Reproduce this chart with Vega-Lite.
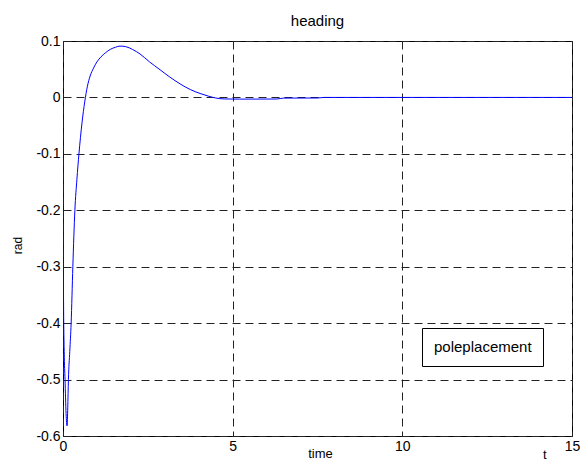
{
  "$schema": "https://vega.github.io/schema/vega-lite/v6.json",
  "width": 509,
  "height": 395,
  "autosize": "none",
  "padding": {"left": 63, "top": 41, "right": 8, "bottom": 26},
  "background": "white",
  "config": {
    "font": "Liberation Sans",
    "view": {"stroke": "black", "strokeWidth": 1},
    "axis": {
      "grid": true,
      "gridColor": "#222",
      "gridDash": [8, 5],
      "gridOpacity": 1,
      "domain": false,
      "ticks": false,
      "labelFontSize": 14,
      "labelColor": "black",
      "titleColor": "black",
      "titleFontWeight": "normal",
      "titleFontSize": 13
    }
  },
  "title": {"text": "heading", "fontSize": 15, "fontWeight": "normal", "baseline": "alphabetic", "offset": 16, "frame": "group", "dy": 23, "color": "black"},
  "layer": [
    {
      "data": {"values": [
        {"t": 0, "v": 0, "series": "poleplacement"},
        {"t": 0.005, "v": -0.2, "series": "poleplacement"},
        {"t": 0.015, "v": -0.35, "series": "poleplacement"},
        {"t": 0.035, "v": -0.45, "series": "poleplacement"},
        {"t": 0.06, "v": -0.5, "series": "poleplacement"},
        {"t": 0.09, "v": -0.56, "series": "poleplacement"},
        {"t": 0.12, "v": -0.582, "series": "poleplacement"},
        {"t": 0.14, "v": -0.55, "series": "poleplacement"},
        {"t": 0.16, "v": -0.5, "series": "poleplacement"},
        {"t": 0.2, "v": -0.45, "series": "poleplacement"},
        {"t": 0.24, "v": -0.4, "series": "poleplacement"},
        {"t": 0.29, "v": -0.3, "series": "poleplacement"},
        {"t": 0.35, "v": -0.2, "series": "poleplacement"},
        {"t": 0.41, "v": -0.145, "series": "poleplacement"},
        {"t": 0.47, "v": -0.1, "series": "poleplacement"},
        {"t": 0.56, "v": -0.045, "series": "poleplacement"},
        {"t": 0.64, "v": -0.008, "series": "poleplacement"},
        {"t": 0.72, "v": 0.02, "series": "poleplacement"},
        {"t": 0.8, "v": 0.038, "series": "poleplacement"},
        {"t": 0.9, "v": 0.052, "series": "poleplacement"},
        {"t": 1.0, "v": 0.063, "series": "poleplacement"},
        {"t": 1.12, "v": 0.072, "series": "poleplacement"},
        {"t": 1.25, "v": 0.079, "series": "poleplacement"},
        {"t": 1.39, "v": 0.085, "series": "poleplacement"},
        {"t": 1.55, "v": 0.089, "series": "poleplacement"},
        {"t": 1.68, "v": 0.091, "series": "poleplacement"},
        {"t": 1.85, "v": 0.09, "series": "poleplacement"},
        {"t": 2.05, "v": 0.085, "series": "poleplacement"},
        {"t": 2.27, "v": 0.077, "series": "poleplacement"},
        {"t": 2.55, "v": 0.063, "series": "poleplacement"},
        {"t": 2.86, "v": 0.049, "series": "poleplacement"},
        {"t": 3.15, "v": 0.036, "series": "poleplacement"},
        {"t": 3.45, "v": 0.024, "series": "poleplacement"},
        {"t": 3.75, "v": 0.014, "series": "poleplacement"},
        {"t": 4.04, "v": 0.007, "series": "poleplacement"},
        {"t": 4.3, "v": 0.002, "series": "poleplacement"},
        {"t": 4.5, "v": -0.001, "series": "poleplacement"},
        {"t": 4.75, "v": -0.0027, "series": "poleplacement"},
        {"t": 5.2, "v": -0.003, "series": "poleplacement"},
        {"t": 6.3, "v": -0.0028, "series": "poleplacement"},
        {"t": 6.5, "v": -0.0012, "series": "poleplacement"},
        {"t": 7.5, "v": -0.001, "series": "poleplacement"},
        {"t": 7.7, "v": 0, "series": "poleplacement"},
        {"t": 15, "v": 0, "series": "poleplacement"}
      ]},
      "mark": {"type": "line", "strokeWidth": 1, "interpolate": "monotone", "clip": true},
      "encoding": {
        "x": {"field": "t", "type": "quantitative", "scale": {"domain": [0, 15], "nice": false},
          "axis": {"values": [0, 5, 10, 15], "title": "time", "labelPadding": 3, "titleBaseline": "alphabetic", "titleY": 21, "titleX": 257, "labelFlush": false}},
        "y": {"field": "v", "type": "quantitative", "scale": {"domain": [-0.6, 0.1], "nice": false, "zero": false},
          "axis": {"values": [-0.6, -0.5, -0.4, -0.3, -0.2, -0.1, 0, 0.1], "title": "rad", "labelPadding": 3,
            "labelExpr": "datum.value == 0 ? '0' : toString(round(datum.value*10)/10)",
            "titleX": -46, "titleY": 204, "titleBaseline": "middle", "titleAlign": "center", "titleAngle": -90, "titleFontSize": 12}},
        "color": {"field": "series", "type": "nominal", "scale": {"range": ["#0000ff"]},
          "legend": {"title": null, "orient": "none", "legendX": 359, "legendY": 287, "padding": 11,
            "strokeColor": "black", "fillColor": "white", "labelFontSize": 15, "labelColor": "black",
            "symbolSize": 0, "symbolStrokeWidth": 0, "symbolOpacity": 0, "symbolType": "stroke", "labelOffset": -14, "cornerRadius": 0}}
      }
    },
    {
      "data": {"values": [{"t": 14.2, "v": -0.633, "label": "t"}]},
      "mark": {"type": "text", "fontSize": 13, "baseline": "middle", "align": "center", "color": "black"},
      "encoding": {
        "x": {"field": "t", "type": "quantitative"},
        "y": {"field": "v", "type": "quantitative"},
        "text": {"field": "label"}
      }
    }
  ]
}
